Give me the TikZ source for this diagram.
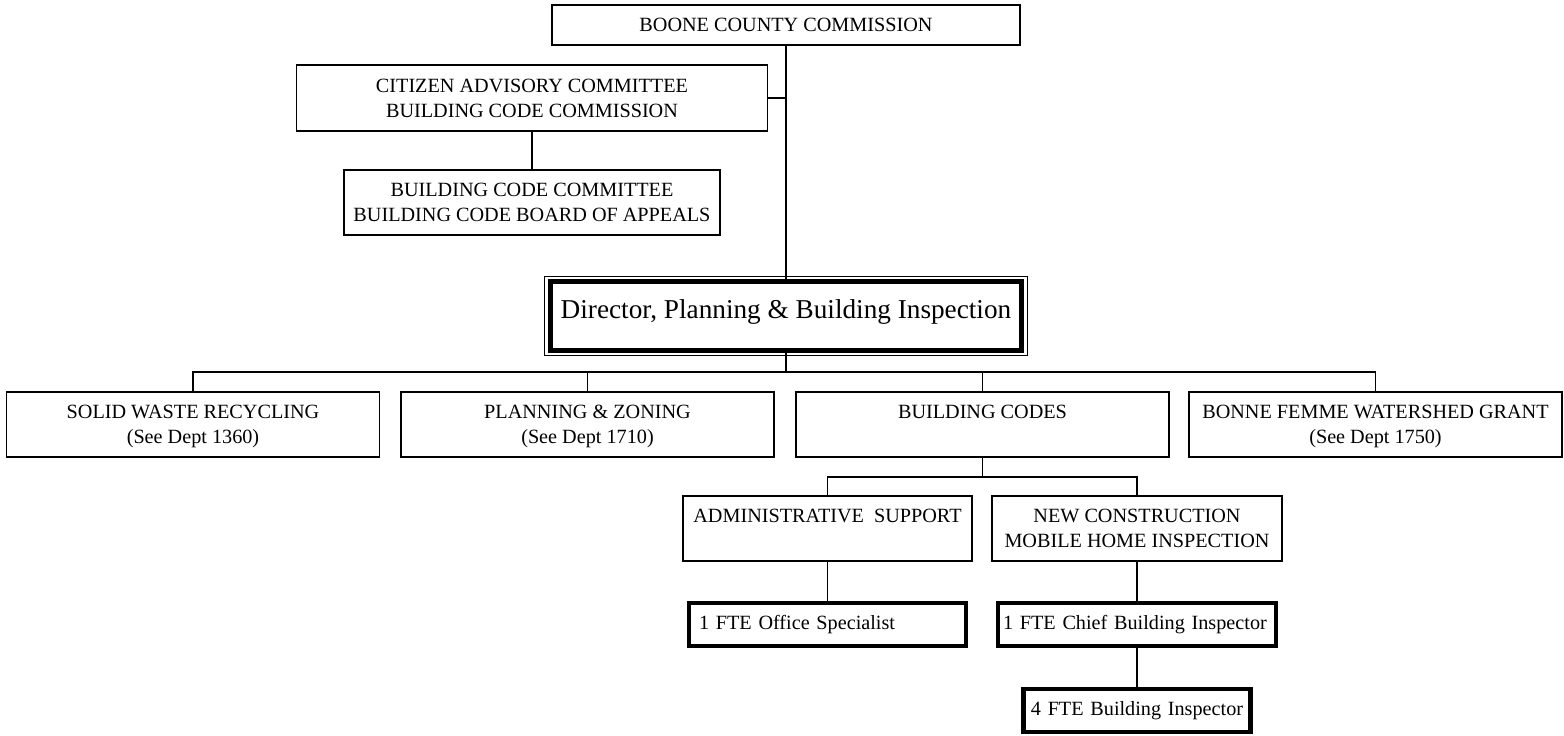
\documentclass[tikz,border=0pt]{standalone}
\usepackage{fontspec}
\setmainfont{Liberation Serif}

\newcommand{\boxfont}{\fontsize{11.5}{14.2}\selectfont}
\newcommand{\dirfont}{\fontsize{15.5}{18}\selectfont}
\newcommand{\bstrut}{\rule[-3.2pt]{0pt}{14.2pt}}

\begin{document}
\begin{tikzpicture}[
    unit/.style={draw, line width=0.6pt, align=center, font=\boxfont, inner sep=0pt},
    staff/.style={draw, line width=2.3pt, align=left, font=\boxfont, inner xsep=0.2cm, inner ysep=0pt, minimum height=0.86cm},
    link/.style={line width=0.6pt}]
        \useasboundingbox (0,0) rectangle (31.28,14.72);
        % Commission and boards
        \node[unit, minimum width=9.36cm, minimum height=0.8cm] (boone) at (15.72,14.22) {BOONE COUNTY COMMISSION};
        \node[unit, minimum width=9.42cm, minimum height=1.32cm] (citizen) at (10.64,12.76) {\bstrut CITIZEN ADVISORY COMMITTEE\\\bstrut BUILDING CODE COMMISSION};
        \node[unit, minimum width=7.52cm, minimum height=1.3cm] (bcc) at (10.64,10.67) {\bstrut BUILDING CODE COMMITTEE\\\bstrut BUILDING CODE BOARD OF APPEALS};
        % Director
        \node[draw, line width=2.3pt, font=\dirfont, text depth=8.2pt, inner sep=0pt, minimum width=9.42cm, minimum height=1.38cm] (dir) at (15.72,8.4) {Director, Planning \& Building Inspection};
        \draw[link] ([shift={(-0.08,0.06)}]dir.north west) rectangle ([shift={(0.08,-0.06)}]dir.south east);
        % Divisions
        \node[unit, minimum width=7.46cm, minimum height=1.3cm] (solid) at (3.86,6.23) {\bstrut SOLID WASTE RECYCLING\\\bstrut (See Dept 1360)};
        \node[unit, minimum width=7.46cm, minimum height=1.3cm] (planning) at (11.75,6.23) {\bstrut PLANNING \& ZONING\\\bstrut (See Dept 1710)};
        \node[unit, minimum width=7.46cm, minimum height=1.3cm] (codes) at (19.65,6.23) {\bstrut BUILDING CODES\\\bstrut};
        \node[unit, minimum width=7.46cm, minimum height=1.3cm] (bonne) at (27.51,6.23) {\bstrut BONNE FEMME WATERSHED GRANT\\\bstrut (See Dept 1750)};
        % Building codes sections
        \node[unit, minimum width=5.78cm, minimum height=1.3cm] (admin) at (16.55,4.15) {\bstrut ADMINISTRATIVE\ \ SUPPORT\\\bstrut};
        \node[unit, minimum width=5.8cm, minimum height=1.3cm] (newcon) at (22.74,4.15) {\bstrut NEW CONSTRUCTION\\\bstrut MOBILE HOME INSPECTION};
        % Staff
        \node[staff, text width=5.14cm] (office) at (16.55,2.23) {1 FTE Office Specialist};
        \node[staff, inner xsep=0.1cm, text width=5.36cm] (chief) at (22.74,2.23) {1 FTE Chief Building Inspector};
        \node[staff, align=center, inner xsep=0.06cm, text width=4.42cm] (inspectors) at (22.74,0.51) {4 FTE Building Inspector};
        % Connectors
        \draw[link] (boone.south) -- (dir.north);
        \draw[link] (citizen.east) -- (citizen.east -| boone.south);
        \draw[link] (citizen.south) -- (bcc.north);
        \coordinate (tierbus) at (15.72,7.28);
        \draw[link] (dir.south) -- (tierbus);
        \draw[link] (solid.north) |- (tierbus) -| (bonne.north);
        \draw[link] (planning.north) -- (planning.north |- tierbus);
        \draw[link] (codes.north) -- (codes.north |- tierbus);
        \coordinate (subbus) at (19.65,5.18);
        \draw[link] (codes.south) -- (subbus);
        \draw[link] (admin.north) |- (subbus) -| (newcon.north);
        \draw[link] (admin.south) -- (office.north);
        \draw[link] (newcon.south) -- (chief.north);
        \draw[link] (chief.south) -- (inspectors.north);
    \end{tikzpicture}
\end{document}
